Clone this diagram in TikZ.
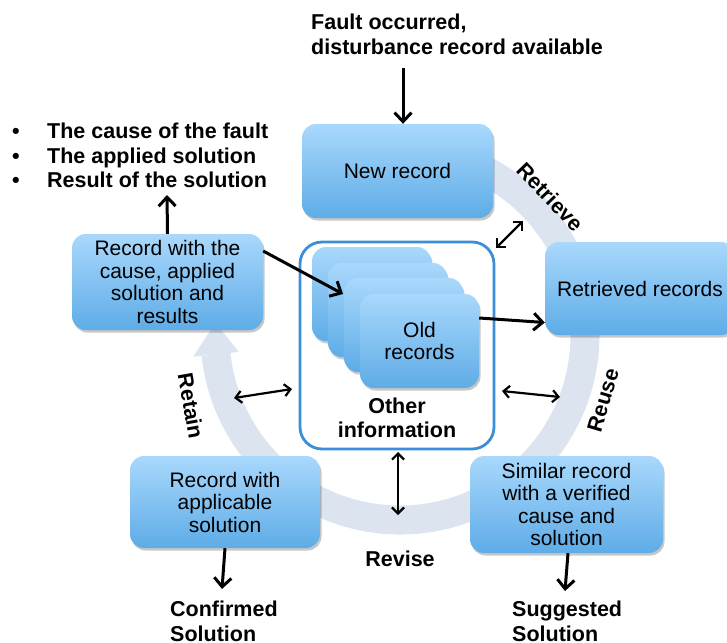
\documentclass[tikz,border=0pt]{standalone}
\usepackage{fontspec}
\setmainfont{Liberation Sans}
\usetikzlibrary{arrows.meta,shadows,calc}
\definecolor{boxtop}{HTML}{A9D8FC}
\definecolor{boxbot}{HTML}{5EACE7}
\definecolor{ringc}{HTML}{DCE4F0}
\definecolor{framec}{HTML}{3A8FD8}
\begin{document}
\begin{tikzpicture}[x=1pt,y=-1pt,
  recbox/.style={rounded corners=14pt, top color=boxtop, bottom color=boxbot,
    draw=none, drop shadow={shadow xshift=1.5pt, shadow yshift=-2.5pt, opacity=0.22, fill=black},
    align=center, font=\fontsize{21}{22.5}\selectfont, inner sep=2pt},
  oldbox/.style={recbox, minimum width=119pt, minimum height=94pt},
  label/.style={font=\fontsize{21.5}{24.5}\selectfont\bfseries, inner sep=0pt},
  cyclelabel/.style={font=\fontsize{21.5}{24}\selectfont\bfseries, inner sep=0pt},
  mainarrow/.style={line width=3pt, -{Straight Barb[length=9pt,width=17pt]}},
  dblarrow/.style={line width=2.2pt, {Straight Barb[length=6pt,width=12pt]}-{Straight Barb[length=6pt,width=12pt]}},
  ring/.style={line width=29pt, draw=ringc}
]
\useasboundingbox (0,0) rectangle (727,642);

% cycle band with its arrowhead
\coordinate (C) at (400,335);
\draw[ring] ($(C)+(-80:185)$) arc[start angle=-80, end angle=174, radius=185];
\fill[ringc] ($(C)+(174:208)$) -- ($(C)+(183.8:185)$) -- ($(C)+(174:162)$) -- cycle;

% main records
\node[recbox, minimum width=191pt, minimum height=94pt] (new) at (397.5,171) {New record};
\node[recbox, minimum width=190pt, minimum height=93pt] (retr) at (640,288.5) {Retrieved records};
\node[recbox, minimum width=191pt, minimum height=96pt] (cause) at (167.5,282)
  {Record with the\\cause, applied\\solution and\\results};
\node[recbox, minimum width=190pt, minimum height=92pt] (appl) at (225,502)
  {Record with\\applicable\\solution};
\node[recbox, minimum width=193pt, minimum height=97pt] (sim) at (566.5,504.5)
  {Similar record\\with a verified\\cause and\\solution};

% case base
\draw[framec, line width=2.8pt, rounded corners=22pt] (300,242) rectangle (494,449);
\node[oldbox] (old1) at (371.5,294) {};
\node[oldbox] (old2) at (387.5,310) {};
\node[oldbox] (old3) at (403.5,325) {};
\node[oldbox] (old4) at (419.5,341) {Old\\records};
\node[label, align=center] (other) at (397,418) {Other\\information};

% texts
\node[label, align=left, anchor=north west] (fault) at (311,14)
  {Fault occurred,\\disturbance record available};
\node[label, align=left, anchor=north west] (bullets) at (12,123)
  {\makebox[35pt][l]{\textbullet}The cause of the fault\\
   \makebox[35pt][l]{\textbullet}The applied solution\\
   \makebox[35pt][l]{\textbullet}Result of the solution};
\node[label, align=left, anchor=north west] (confirmed) at (170,601) {Confirmed\\Solution};
\node[label, align=left, anchor=north west] (suggested) at (512,601) {Suggested\\Solution};

% phase names
\node[cyclelabel, rotate=-46] (retrieve) at (550,197) {Retrieve};
\node[cyclelabel, rotate=73.5] (reuse) at (603,400) {Reuse};
\node[cyclelabel] (revise) at (400,559) {Revise};
\node[cyclelabel, rotate=-80] (retain) at (191,406) {Retain};

% connector ends
\coordinate (faultend) at (403,68);
\coordinate (bulletend) at (167,195);
\coordinate (oldin) at (343,294);
\coordinate (confend) at (222,589);
\coordinate (suggend) at (565,591);
\coordinate (ringNE) at (523,221);
\coordinate (ringW) at (234,398);
\coordinate (ringE) at (560,397);
\coordinate (ringS) at (398,515);

% connectors
\draw[mainarrow] (faultend) -- (faultend |- new.north);
\draw[mainarrow] (cause.north) -- (bulletend);
\draw[mainarrow] ($(cause.east)+(0,-31)$) -- (oldin);
\draw[mainarrow] ($(old4.east)+(0,-23)$) -- ($(retr.west)+(0,34)$);
\draw[mainarrow] (appl.south) -- (confend);
\draw[mainarrow] ($(sim.south)+(1.5,0)$) -- (suggend);

\draw[dblarrow] (496,248) -- (ringNE);
\draw[dblarrow] (ringW) -- (292,389);
\draw[dblarrow] (502,391) -- (ringE);
\draw[dblarrow] (398,452) -- (ringS);
\end{tikzpicture}
\end{document}
